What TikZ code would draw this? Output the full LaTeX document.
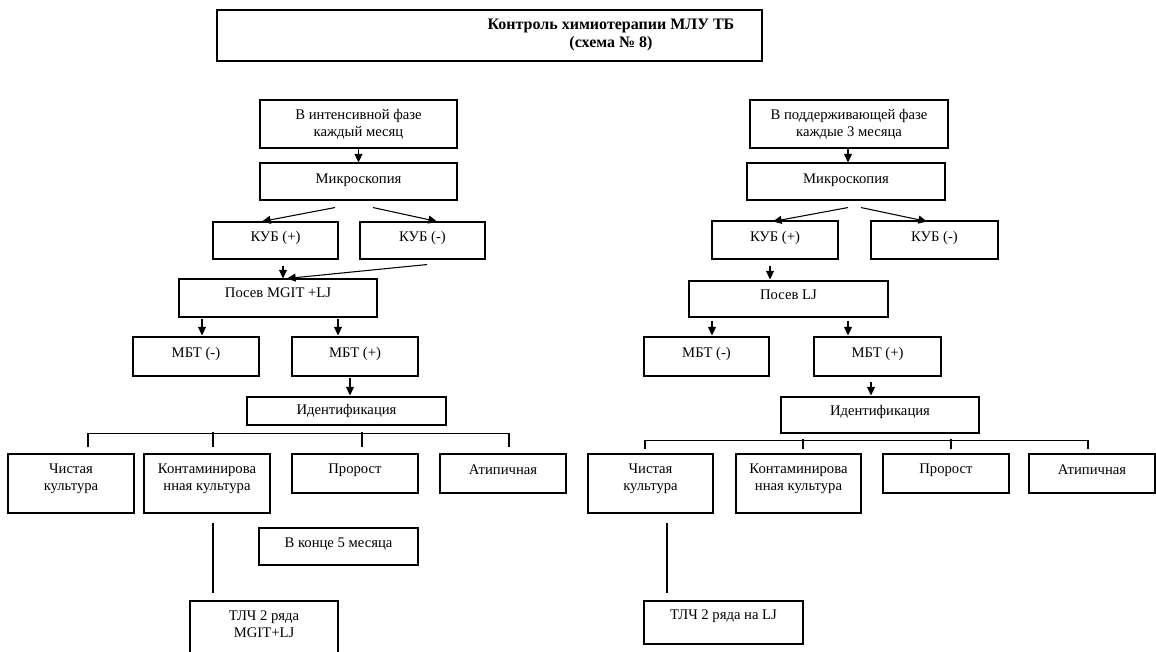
\documentclass[tikz,border=0pt]{standalone}
\usepackage{fontspec}
\setmainfont{Liberation Serif}
\usetikzlibrary{arrows.meta,calc,fit}

\tikzset{
  box/.style={draw, line width=0.8pt, inner sep=0pt},
  txt/.style={align=center, inner sep=0pt,
              font=\fontsize{11}{13}\selectfont},
  ttl/.style={align=center, inner sep=0pt,
              font=\bfseries\fontsize{12}{13}\selectfont},
  arr/.style={line width=0.8pt, -{Triangle[length=6.5pt,width=6pt]}},
  link/.style={line width=0.8pt},
}
% #1 name, #2-#5 corners (x1,y1,x2,y2), #6 text centre y, #7 text
\newcommand\flowbox[7]{%
  \node[box, fit={(#2,#3)(#4,#5)}] (#1) {};
  \node[txt] (#1-t) at ({(#2+#4)/2},#6) {#7};
}

\begin{document}
\begin{tikzpicture}[x=0.75pt, y=-0.75pt]
\useasboundingbox (0,0) rectangle (1156,651);
\clip (0,0) rectangle (1156,651);

% heading
\node[box, fit={(217,10)(762,61)}] (head) {};
\node[ttl] (head-t) at (611,35) {Контроль химиотерапии МЛУ ТБ\\(схема № 8)};

% ---------- intensive phase ----------
\flowbox{L1}{260}{100}{457}{148}{124}{В интенсивной фазе\\каждый месяц}
\flowbox{L2}{260}{163}{457}{200}{180}{Микроскопия}
\flowbox{L3}{213}{222}{338}{259}{238}{КУБ (+)}
\flowbox{L4}{360}{222}{485}{259}{238}{КУБ (-)}
\flowbox{L5}{179}{279}{377}{317}{293}{Посев MGIT +LJ}
\flowbox{L6}{133}{337}{259}{376}{354}{МБТ (-)}
\flowbox{L7}{292}{337}{418}{376}{354}{МБТ (+)}
\flowbox{L8}{247}{397}{446}{425}{411}{Идентификация}
\flowbox{La}{8}{454}{134}{513}{479}{Чистая\\культура}
\flowbox{Lb}{144}{454}{270}{513}{479}{Контаминирова\\нная культура}
\flowbox{Lc}{292}{454}{418}{493}{470}{Пророст}
\flowbox{Ld}{440}{454}{566}{493}{470}{Атипичная}
\flowbox{Le}{259}{528}{418}{565}{544}{В конце 5 месяца}
\flowbox{Lf}{190}{601}{338}{670}{624}{ТЛЧ 2 ряда\\MGIT+LJ}

\draw[arr] (L1.south) -- (L1.south |- L2.north);
\draw[arr] ($(L2.south)+(-23.5,7)$) -- ($(L3.north)+(-13.5,0)$);
\draw[arr] ($(L2.south)+(14.5,7)$) -- ($(L4.north)+(14.5,0)$);
\draw[arr] ($(L3.south)+(7.5,6)$) -- ($(L5.north)+(5,0)$);
\draw[arr] ($(L4.south)+(4.5,5)$) -- ($(L5.north)+(9,0)$);
\draw[arr] ($(L5.south)+(-76,1)$) -- ($(L6.north)+(6,-1)$);
\draw[arr] ($(L5.south)+(60,1)$) -- ($(L7.north)+(-17,-1)$);
\draw[arr] ($(L7.south)+(-5,1)$) -- ($(L8.north)+(3.5,-1)$);

\draw[link] ($(La.north)+(17,-6)$) |- ($(L8.south)+(0,8)$) -| ($(Ld.north)+(6,-6)$);
\draw[link] ($(Lb.north)+(6,-6)$) -- ($(Lb.north)+(6,-21)$);
\draw[link] ($(Lc.north)+(7,-6)$) -- ($(Lc.north)+(7,-21)$);
\draw[link] ($(Lb.south)+(6,9)$) -- ($(Lf.north)+(-51,-7)$);

% ---------- continuation phase ----------
\flowbox{R1}{750}{100}{948}{148}{124}{В поддерживающей фазе\\каждые 3 месяца}
\flowbox{R2}{747}{163}{945}{200}{180}{Микроскопия}
\flowbox{R3}{712}{221}{838}{259}{238}{КУБ (+)}
\flowbox{R4}{871}{221}{998}{259}{238}{КУБ (-)}
\flowbox{R5}{689}{281}{888}{317}{295}{Посев LJ}
\flowbox{R6}{644}{337}{769}{376}{354}{МБТ (-)}
\flowbox{R7}{814}{337}{941}{376}{354}{МБТ (+)}
\flowbox{R8}{781}{397}{979}{433}{412}{Идентификация}
\flowbox{Ra}{588}{454}{713}{513}{479}{Чистая\\культура}
\flowbox{Rb}{736}{454}{861}{513}{479}{Контаминирова\\нная культура}
\flowbox{Rc}{883}{454}{1009}{493}{470}{Пророст}
\flowbox{Rd}{1029}{454}{1155}{493}{470}{Атипичная}
\flowbox{Rf}{644}{601}{803}{644}{616}{ТЛЧ 2 ряда на LJ}

\draw[arr] ($(R1.south)+(-1,0)$) -- ($(R2.north)+(2,0)$);
\draw[arr] ($(R2.south)+(2,7)$) -- ($(R3.north)+(-2,1)$);
\draw[arr] ($(R2.south)+(15,7)$) -- ($(R4.north)+(-7.5,1)$);
\draw[arr] ($(R3.south)+(-5,6)$) -- ($(R5.north)+(-18.5,-1)$);
\draw[arr] ($(R5.south)+(-76.5,3)$) -- ($(R6.north)+(5.5,-1)$);
\draw[arr] ($(R5.south)+(59.5,3)$) -- ($(R7.north)+(-29.5,-1)$);
\draw[arr] ($(R7.south)+(-6.5,5)$) -- ($(R8.north)+(-9,-1)$);

\draw[link] ($(Ra.north)+(-5.5,-4)$) |- ($(R8.south)+(0,7)$) -| ($(Rd.north)+(-4,-4)$);
\draw[link] ($(Rb.north)+(4.5,-4)$) -- ($(Rb.north)+(4.5,-14)$);
\draw[link] ($(Rc.north)+(5,-4)$) -- ($(Rc.north)+(5,-14)$);
\draw[link] ($(Ra.south)+(16.5,9)$) -- ($(Rf.north)+(-56.5,-7)$);
\end{tikzpicture}
\end{document}
